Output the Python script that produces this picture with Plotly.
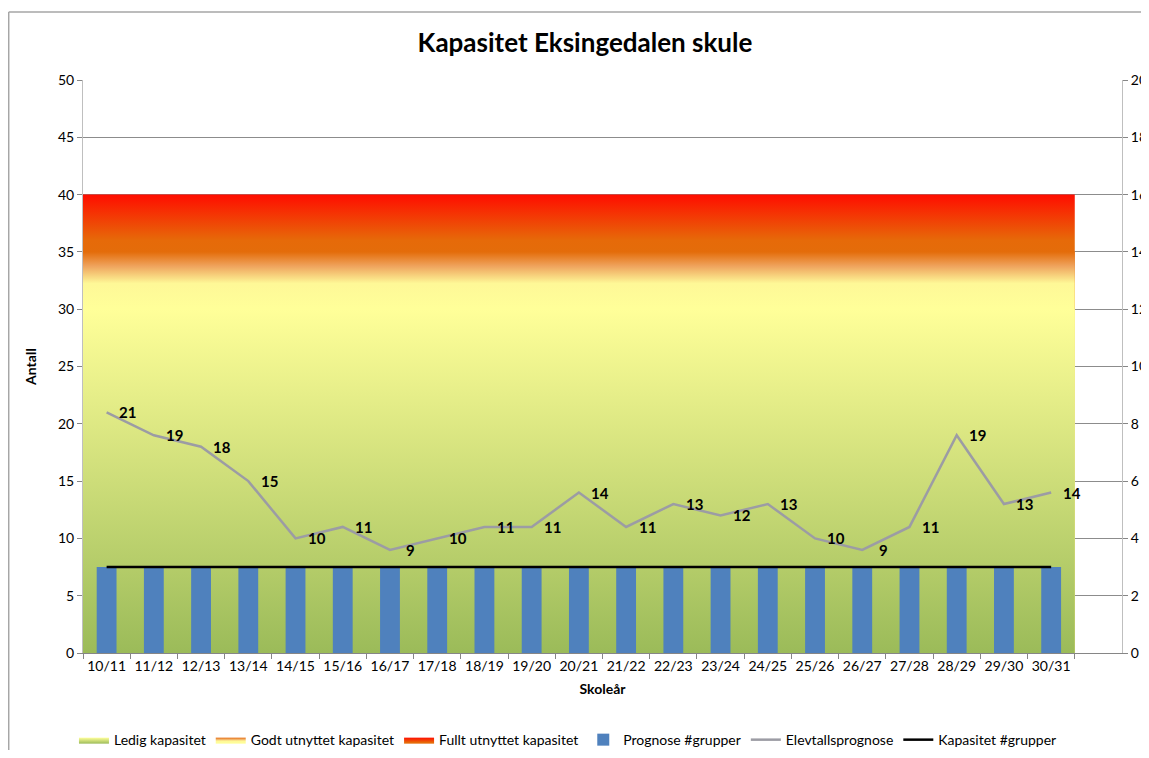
import plotly.graph_objects as go

categories = ['10/11', '11/12', '12/13', '13/14', '14/15', '15/16', '16/17', '17/18', '18/19', '19/20',
              '20/21', '21/22', '22/23', '23/24', '24/25', '25/26', '26/27', '27/28', '28/29', '29/30', '30/31']
ledig_kapasitet = [30, 30, 30, 30, 30, 30, 30, 30, 30, 30, 30, 30, 30, 30, 30, 30, 30, 30, 30, 30, 30]
godt_utnyttet = [5, 5, 5, 5, 5, 5, 5, 5, 5, 5, 5, 5, 5, 5, 5, 5, 5, 5, 5, 5, 5]
fullt_utnyttet = [5, 5, 5, 5, 5, 5, 5, 5, 5, 5, 5, 5, 5, 5, 5, 5, 5, 5, 5, 5, 5]
prognose_grupper = [3, 3, 3, 3, 3, 3, 3, 3, 3, 3, 3, 3, 3, 3, 3, 3, 3, 3, 3, 3, 3]
elevtallsprognose = [21, 19, 18, 15, 10, 11, 9, 10, 11, 11, 14, 11, 13, 12, 13, 10, 9, 11, 19, 13, 14]
kapasitet_grupper = [3, 3, 3, 3, 3, 3, 3, 3, 3, 3, 3, 3, 3, 3, 3, 3, 3, 3, 3, 3, 3]

FONT = "Lato"
n = len(categories)
idx = list(range(n))


def step_edges(values):
    xs, ys = [], []
    for i, v in enumerate(values):
        xs += [i - 0.5, i + 0.5]
        ys += [v, v]
    return xs, ys


cum1 = ledig_kapasitet
cum2 = [a + b for a, b in zip(cum1, godt_utnyttet)]
cum3 = [a + b for a, b in zip(cum2, fullt_utnyttet)]

fig = go.Figure()

# Stacked capacity bands drawn top-down, each filled to zero, so lower bands overlap higher ones
x3, y3 = step_edges(cum3)
fig.add_trace(go.Scatter(
    x=x3, y=y3, mode='lines', line=dict(width=0), fill='tozeroy',
    fillgradient=dict(type='vertical', start=max(cum2), stop=max(cum3),
                      colorscale=[[0, '#E46C0A'], [0.2, '#E66A09'], [1, '#FF0D00']]),
    name='Fullt utnyttet kapasitet', legendrank=3, hoverinfo='skip'))
x2, y2 = step_edges(cum2)
fig.add_trace(go.Scatter(
    x=x2, y=y2, mode='lines', line=dict(width=0), fill='tozeroy',
    fillgradient=dict(type='vertical', start=max(cum1), stop=max(cum2),
                      colorscale=[[0, '#FFFF99'], [0.45, '#FEF897'], [0.75, '#EFA45E'], [1, '#E46C0A']]),
    name='Godt utnyttet kapasitet', legendrank=2, hoverinfo='skip'))
x1, y1 = step_edges(cum1)
fig.add_trace(go.Scatter(
    x=x1, y=y1, mode='lines', line=dict(width=0), fill='tozeroy',
    fillgradient=dict(type='vertical', start=0, stop=max(cum1),
                      colorscale=[[0, '#9BBB59'], [1, '#FFFF99']]),
    name='Ledig kapasitet', legendrank=1, hoverinfo='skip'))

fig.add_trace(go.Bar(
    x=idx, y=prognose_grupper, width=0.42, marker=dict(color='#4F81BD', line=dict(width=0)),
    name='Prognose #grupper', yaxis='y2', legendrank=4))

fig.add_trace(go.Scatter(
    x=idx, y=elevtallsprognose, mode='lines', line=dict(color='#9C9CA4', width=2.5),
    name='Elevtallsprognose', legendrank=5))

fig.add_trace(go.Scatter(
    x=idx, y=kapasitet_grupper, mode='lines', line=dict(color='#000000', width=2.5),
    name='Kapasitet #grupper', yaxis='y2', legendrank=6))

for i, v in zip(idx, elevtallsprognose):
    fig.add_annotation(x=i, y=v, text='<b>%d</b>' % v, showarrow=False, xshift=21,
                       font=dict(family=FONT, size=15, color='black'), xanchor='center', yanchor='middle')

# chart area border (left and top edges; the rest lies outside the picture)
fig.add_shape(type='line', xref='paper', yref='paper', x0=-0.0715, x1=-0.0715, y0=-0.4, y1=1.1187,
              line=dict(color='#A6A6A6', width=1.5), layer='below')
fig.add_shape(type='line', xref='paper', yref='paper', x0=-0.0715, x1=1.3, y0=1.1187, y1=1.1187,
              line=dict(color='#A6A6A6', width=1.5), layer='below')

W, H = 1141, 742
fig.update_layout(
    width=W, height=H,
    margin=dict(l=75, r=27, t=72, b=97, autoexpand=False),
    paper_bgcolor='white', plot_bgcolor='white',
    font=dict(family=FONT, size=14, color='black'),
    title=dict(text='<b>Kapasitet Eksingedalen skule</b>', x=577 / W, xanchor='center',
               y=1 - 35 / H, yanchor='middle', yref='container',
               font=dict(family=FONT, size=26, color='black')),
    showlegend=True,
    legend=dict(orientation='h', x=-0.0087, xanchor='left', y=-0.124, yanchor='top',
                font=dict(family=FONT, size=14, color='black'), traceorder='normal',
                bgcolor='rgba(0,0,0,0)'),
    xaxis=dict(range=[-0.5, 21.5], tickmode='array', tickvals=idx, ticktext=categories,
               ticks='', showgrid=False, zeroline=False, automargin=False,
               showline=True, linecolor='#868686', linewidth=1,
               minor=dict(tickmode='array', tickvals=[i - 0.5 for i in range(n + 1)],
                          ticks='outside', ticklen=5, tickcolor='#868686', showgrid=False),
               title=dict(text='<b>Skoleår</b>', font=dict(family=FONT, size=14), standoff=11),
               tickfont=dict(family=FONT, size=14), fixedrange=True),
    yaxis=dict(range=[0, 50], dtick=5, tick0=0, showgrid=True, gridcolor='#8C8C8C', gridwidth=1,
               zeroline=False, showline=True, linecolor='#BFBFBF', linewidth=1, automargin=False,
               ticks='outside', ticklen=5, tickcolor='#868686',
               title=dict(text='<b>Antall</b>', font=dict(family=FONT, size=14), standoff=18),
               tickfont=dict(family=FONT, size=14)),
    yaxis2=dict(range=[0, 20], dtick=2, tick0=0, overlaying='y', side='right', showgrid=False,
                zeroline=False, showline=True, linecolor='#BFBFBF', linewidth=1, automargin=False,
                ticks='outside', ticklen=5, tickcolor='#868686',
                tickfont=dict(family=FONT, size=14)),
)

fig.write_html('out.html', config={'displayModeBar': False})
